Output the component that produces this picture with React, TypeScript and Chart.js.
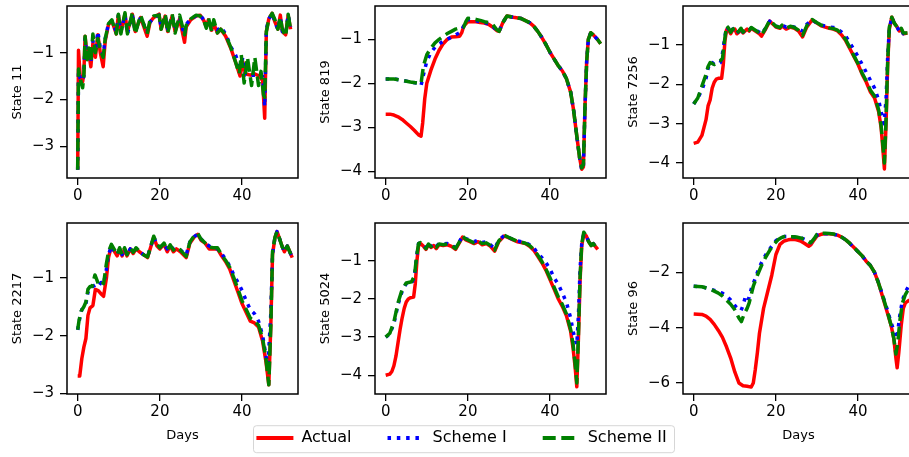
import React, { useEffect, useRef } from 'react';
import { Chart, registerables } from 'chart.js';

Chart.register(...registerables);
Chart.defaults.font.family = 'DejaVu Sans';

type Pt = [number, number];

const seriesLabels = ['Actual', 'Scheme I', 'Scheme II'];
const seriesColors = ['#ff0000', '#0000ff', '#008000'];
const xTicks = [0, 20, 40];

// ---------- State 11 ----------
const state11Actual: Pt[] = [[0,-3.5],[0.2,-0.95],[0.6,-1.5],[1.2,-1.62],[1.5,-1.45],[1.8,-0.65],[2.3,-1.1],[2.7,-1.0],[3.2,-1.3],[3.7,-0.8],[4.3,-1.1],[4.9,-0.62],[5.5,-1.0],[6.2,-1.3],[6.7,-0.75],[7.5,-0.4],[8.3,-0.32],[9.4,-0.6],[9.9,-0.2],[10.5,-0.55],[11.5,-0.18],[12.1,-0.55],[13.3,-0.18],[14,-0.55],[15.3,-0.25],[16.9,-0.65],[17.6,-0.35],[18.5,-0.25],[19.8,-0.18],[20.3,-0.5],[21.3,-0.22],[21.9,-0.55],[23,-0.22],[23.7,-0.55],[24.8,-0.28],[26,-0.78],[26.4,-0.45],[27.5,-0.3],[28.8,-0.22],[29.8,-0.2],[30.7,-0.32],[31.3,-0.45],[31.8,-0.3],[32.6,-0.52],[33.1,-0.38],[34,-0.58],[34.8,-0.5],[36,-0.65],[37.3,-0.92],[38.4,-1.2],[39.5,-1.5],[40.2,-1.2],[40.8,-1.45],[42,-1.48],[43,-1.45],[44.2,-1.5],[45,-1.6],[45.5,-2.4],[45.9,-0.55],[46.5,-0.28],[47.3,-0.16],[48,-0.35],[48.7,-0.5],[49.3,-0.2],[49.8,-0.55],[50.6,-0.62],[51.2,-0.2],[51.8,-0.5]];
const state11SchemeI: Pt[] = [[0,-3.5],[0.2,-1.4],[0.6,-1.55],[1.2,-1.6],[1.5,-1.5],[1.8,-0.7],[2.3,-1.1],[2.7,-1.0],[3.2,-1.2],[3.7,-0.75],[4.3,-1.0],[4.9,-0.55],[5.5,-0.9],[6.2,-1.05],[6.7,-0.7],[7.5,-0.38],[8.3,-0.32],[9.4,-0.55],[9.9,-0.2],[10.5,-0.55],[11.5,-0.2],[12.1,-0.6],[13.3,-0.2],[14,-0.55],[15.3,-0.25],[16.9,-0.55],[17.6,-0.35],[18.5,-0.25],[19.8,-0.2],[20.3,-0.45],[21.3,-0.22],[21.9,-0.5],[23,-0.22],[23.7,-0.45],[24.8,-0.28],[26,-0.62],[26.4,-0.4],[27.5,-0.28],[28.8,-0.22],[29.8,-0.2],[30.7,-0.3],[31.3,-0.42],[31.8,-0.3],[32.6,-0.48],[33.1,-0.38],[34,-0.52],[34.8,-0.45],[36,-0.6],[37.3,-0.88],[38.4,-1.05],[39.5,-1.3],[40.2,-1.1],[40.8,-1.48],[42,-1.48],[43,-1.48],[44.2,-1.48],[45,-1.5],[45.5,-2.15],[45.9,-0.5],[46.5,-0.28],[47.3,-0.16],[48,-0.35],[48.7,-0.5],[49.3,-0.25],[49.8,-0.55],[50.6,-0.6],[51.2,-0.2],[51.8,-0.45]];
const state11SchemeII: Pt[] = [[0,-3.5],[0.2,-1.35],[0.6,-1.55],[1.2,-1.75],[1.5,-1.5],[1.8,-0.65],[2.3,-1.15],[2.7,-0.9],[3.2,-1.2],[3.7,-0.6],[4.3,-1.0],[4.9,-0.7],[5.5,-0.95],[6.2,-1.1],[6.7,-0.7],[7.5,-0.38],[8.3,-0.3],[9.4,-0.6],[9.9,-0.18],[10.5,-0.6],[11.5,-0.15],[12.1,-0.6],[13.3,-0.15],[14,-0.6],[15.3,-0.2],[16.9,-0.6],[17.6,-0.3],[18.5,-0.22],[19.8,-0.2],[20.3,-0.5],[21.3,-0.18],[21.9,-0.58],[23,-0.18],[23.7,-0.58],[24.8,-0.2],[26,-0.62],[26.4,-0.42],[27.5,-0.28],[28.8,-0.2],[29.8,-0.22],[30.7,-0.32],[31.3,-0.48],[31.8,-0.25],[32.6,-0.55],[33.1,-0.3],[34,-0.58],[34.8,-0.5],[36,-0.62],[37.3,-0.9],[38.4,-1.2],[39.3,-1.45],[39.8,-1.05],[40.5,-1.65],[41.3,-1.1],[42.3,-1.7],[43.1,-1.1],[44,-1.7],[44.6,-1.4],[45.2,-1.9],[45.5,-1.95],[45.9,-0.55],[46.5,-0.28],[47.3,-0.16],[48,-0.3],[48.7,-0.5],[49.3,-0.25],[49.8,-0.5],[50.6,-0.65],[51.2,-0.18],[51.8,-0.5]];
const state11YTicks = [-3, -2, -1];

// ---------- State 819 ----------
const state819Actual: Pt[] = [[0,-2.7],[1,-2.7],[2,-2.72],[3,-2.76],[4,-2.82],[5,-2.9],[6,-2.98],[7,-3.07],[8,-3.17],[8.6,-3.2],[9,-2.9],[9.5,-2.35],[10,-2.0],[11,-1.7],[12,-1.45],[13,-1.25],[14,-1.1],[15,-1.0],[16,-0.95],[17,-0.94],[18,-0.93],[18.5,-0.85],[19,-0.7],[20,-0.6],[21,-0.6],[22,-0.6],[23,-0.62],[24,-0.63],[25,-0.66],[26,-0.72],[27,-0.8],[27.6,-0.82],[28.5,-0.62],[29.5,-0.47],[31,-0.5],[33,-0.53],[35,-0.62],[36,-0.7],[37,-0.82],[38,-0.96],[39,-1.12],[40,-1.3],[41,-1.45],[42,-1.6],[43,-1.72],[44,-1.9],[45,-2.2],[45.7,-2.6],[46.5,-3.2],[47.2,-3.7],[47.7,-3.95],[48.1,-3.9],[48.5,-2.5],[48.9,-1.5],[49.3,-1.0],[49.9,-0.85],[50.5,-0.9],[51.5,-1.0],[52.3,-1.1]];
const state819SchemeI: Pt[] = [[0,-1.9],[2,-1.9],[4,-1.93],[6,-1.97],[8,-2.0],[8.6,-2.05],[9.2,-1.8],[10,-1.5],[11,-1.3],[12,-1.18],[13,-1.1],[14,-1.05],[15,-1.0],[16,-0.95],[17,-0.9],[18,-0.85],[18.7,-0.75],[19.5,-0.6],[20,-0.55],[21,-0.57],[22,-0.58],[23,-0.6],[24,-0.62],[25,-0.65],[26,-0.7],[27,-0.8],[27.6,-0.82],[28.5,-0.62],[29.5,-0.47],[31,-0.5],[33,-0.53],[35,-0.62],[36,-0.7],[37,-0.82],[38,-0.96],[39,-1.12],[40,-1.3],[41,-1.45],[42,-1.6],[43,-1.72],[44,-1.9],[45,-2.2],[45.7,-2.6],[46.5,-3.2],[47.2,-3.7],[47.7,-3.97],[48.1,-3.9],[48.5,-2.5],[48.9,-1.5],[49.3,-1.0],[49.9,-0.85],[50.5,-0.9],[51.5,-1.0],[52.3,-1.1]];
const state819SchemeII: Pt[] = [[0,-1.9],[2,-1.9],[4,-1.93],[6,-1.97],[8,-2.0],[8.6,-2.0],[9.2,-1.6],[10,-1.35],[11,-1.2],[12,-1.08],[13,-1.0],[14,-0.93],[15,-0.87],[16,-0.82],[17,-0.77],[18,-0.74],[19,-0.72],[19.5,-0.6],[20,-0.52],[21,-0.53],[22,-0.55],[23,-0.57],[24,-0.6],[25,-0.62],[26,-0.66],[27,-0.78],[27.6,-0.82],[28.5,-0.62],[29.5,-0.47],[31,-0.5],[33,-0.53],[35,-0.62],[36,-0.7],[37,-0.82],[38,-0.96],[39,-1.12],[40,-1.3],[41,-1.45],[42,-1.6],[43,-1.72],[44,-1.9],[45,-2.2],[45.7,-2.6],[46.5,-3.2],[47.2,-3.7],[47.7,-3.92],[48.1,-3.85],[48.5,-2.5],[48.9,-1.5],[49.3,-1.0],[49.9,-0.85],[50.5,-0.9],[51.5,-1.0],[52.3,-1.1]];
const state819YTicks = [-4, -3, -2, -1];

// ---------- State 7256 ----------
const state7256Actual: Pt[] = [[0,-3.5],[1,-3.47],[2,-3.3],[3,-2.9],[3.5,-2.55],[4,-2.4],[4.5,-2.1],[5,-1.95],[5.5,-1.87],[6,-1.85],[6.8,-1.85],[7.2,-1.5],[7.6,-0.9],[8,-0.62],[8.5,-0.62],[9,-0.72],[9.5,-0.62],[10,-0.6],[10.5,-0.72],[11,-0.68],[11.5,-0.6],[12,-0.7],[12.5,-0.65],[13,-0.6],[13.5,-0.65],[14,-0.58],[15,-0.65],[16,-0.72],[16.5,-0.78],[17.5,-0.6],[18.5,-0.4],[19.5,-0.5],[20,-0.55],[21,-0.58],[21.5,-0.52],[22.5,-0.6],[23.5,-0.55],[24.5,-0.58],[25.5,-0.65],[26.5,-0.8],[27.5,-0.55],[28.8,-0.37],[30,-0.45],[31,-0.52],[32,-0.55],[33,-0.58],[34,-0.6],[35,-0.65],[36,-0.75],[37,-0.9],[38,-1.1],[39,-1.3],[40,-1.5],[41,-1.75],[42,-1.95],[43,-2.2],[44,-2.35],[45,-2.7],[45.6,-3.1],[46,-3.6],[46.4,-4.15],[46.8,-3.0],[47.2,-1.5],[47.6,-0.6],[48.2,-0.3],[48.8,-0.45],[49.5,-0.55],[50,-0.65],[50.5,-0.6],[51,-0.72],[52,-0.7]];
const state7256SchemeI: Pt[] = [[0,-2.5],[1,-2.35],[2,-2.15],[3,-1.85],[3.5,-1.6],[4,-1.45],[4.5,-1.45],[5,-1.5],[5.5,-1.5],[6,-1.48],[6.5,-1.45],[7,-1.22],[7.5,-0.85],[8,-0.55],[8.5,-0.6],[9,-0.7],[9.5,-0.6],[10,-0.58],[10.5,-0.7],[11,-0.66],[11.5,-0.58],[12,-0.68],[12.5,-0.62],[13,-0.6],[13.5,-0.63],[14,-0.57],[15,-0.62],[16,-0.68],[16.5,-0.72],[17.5,-0.58],[18.5,-0.4],[19.5,-0.5],[20,-0.53],[21,-0.55],[21.5,-0.5],[22.5,-0.55],[23.5,-0.52],[24.5,-0.55],[25.5,-0.6],[26.5,-0.65],[27.5,-0.48],[28.8,-0.37],[30,-0.45],[31,-0.5],[32,-0.52],[33,-0.55],[34,-0.56],[35,-0.6],[36,-0.68],[37,-0.78],[38,-0.95],[39,-1.12],[40,-1.3],[41,-1.5],[42,-1.7],[43,-1.9],[44,-2.1],[45,-2.4],[45.6,-2.7],[46,-2.9],[46.3,-3.0],[46.8,-2.4],[47.2,-1.3],[47.6,-0.6],[48.2,-0.3],[48.8,-0.45],[49.5,-0.55],[50,-0.65],[50.5,-0.6],[51,-0.72],[52,-0.7]];
const state7256SchemeII: Pt[] = [[0,-2.5],[1,-2.35],[1.5,-2.2],[2,-2.05],[3,-1.75],[3.5,-1.55],[4,-1.45],[5,-1.5],[5.5,-1.45],[6.5,-1.4],[7,-1.35],[7.5,-0.9],[8,-0.52],[8.5,-0.58],[9,-0.68],[9.5,-0.6],[10,-0.58],[10.5,-0.7],[11,-0.65],[11.5,-0.58],[12,-0.68],[12.5,-0.62],[13,-0.58],[13.5,-0.63],[14,-0.56],[15,-0.63],[16,-0.7],[16.5,-0.75],[17.5,-0.58],[18.5,-0.38],[19.5,-0.48],[20,-0.53],[21,-0.56],[21.5,-0.5],[22.5,-0.58],[23.5,-0.53],[24.5,-0.56],[25.5,-0.63],[26.5,-0.76],[27.5,-0.52],[28.8,-0.36],[30,-0.44],[31,-0.5],[32,-0.54],[33,-0.57],[34,-0.59],[35,-0.63],[36,-0.72],[37,-0.87],[38,-1.07],[39,-1.28],[40,-1.48],[41,-1.72],[42,-1.92],[43,-2.15],[44,-2.3],[45,-2.65],[45.6,-3.05],[46,-3.5],[46.4,-4.0],[46.8,-2.9],[47.2,-1.4],[47.6,-0.55],[48.2,-0.3],[48.8,-0.45],[49.5,-0.55],[50,-0.62],[50.5,-0.58],[51,-0.7],[52,-0.7]];
const state7256YTicks = [-4, -3, -2, -1];

// ---------- State 2217 ----------
const state2217Actual: Pt[] = [[0,-2.7],[0.5,-2.7],[1,-2.4],[1.5,-2.2],[2,-2.05],[2.5,-1.65],[3,-1.52],[3.7,-1.48],[4.3,-1.2],[5,-1.22],[5.7,-1.28],[6.3,-1.32],[7,-1.0],[7.5,-0.65],[8.2,-0.45],[9,-0.55],[9.6,-0.62],[10.2,-0.5],[10.8,-0.62],[11.4,-0.5],[12,-0.62],[12.8,-0.5],[13.5,-0.58],[14.2,-0.5],[15,-0.55],[16,-0.6],[17,-0.65],[18.5,-0.3],[19.3,-0.45],[20,-0.5],[21,-0.42],[21.8,-0.55],[22.5,-0.45],[23.3,-0.55],[24,-0.5],[25,-0.55],[26.4,-0.65],[27.3,-0.4],[28.5,-0.28],[29.2,-0.25],[30,-0.35],[31,-0.4],[32,-0.5],[33,-0.5],[34,-0.5],[35,-0.62],[36,-0.72],[37,-0.85],[38,-1.05],[39,-1.25],[40,-1.45],[41,-1.6],[42,-1.75],[43,-1.78],[44,-1.85],[45,-2.1],[45.8,-2.45],[46.5,-2.85],[47,-1.8],[47.4,-0.6],[48,-0.3],[48.5,-0.2],[49,-0.3],[49.7,-0.45],[50.3,-0.55],[51,-0.45],[51.6,-0.55],[52.2,-0.65]];
const state2217SchemeI: Pt[] = [[0,-1.9],[0.5,-1.7],[1,-1.55],[1.5,-1.5],[2,-1.45],[2.5,-1.25],[3,-1.18],[3.7,-1.15],[4.3,-1.12],[5,-1.15],[5.7,-1.08],[6.3,-1.1],[7,-0.85],[7.5,-0.6],[8.2,-0.45],[9,-0.55],[9.6,-0.6],[10.2,-0.5],[10.8,-0.6],[11.4,-0.5],[12,-0.6],[12.8,-0.5],[13.5,-0.56],[14.2,-0.5],[15,-0.55],[16,-0.6],[17,-0.63],[18.5,-0.3],[19.3,-0.42],[20,-0.47],[21,-0.42],[21.8,-0.5],[22.5,-0.45],[23.3,-0.5],[24,-0.48],[25,-0.52],[26.4,-0.6],[27.3,-0.38],[28.5,-0.28],[29.2,-0.25],[30,-0.33],[31,-0.4],[32,-0.45],[33,-0.48],[34,-0.5],[35,-0.58],[36,-0.68],[37,-0.8],[38,-0.95],[39,-1.08],[40,-1.22],[41,-1.4],[42,-1.55],[43,-1.62],[44,-1.75],[45,-2.0],[45.8,-2.35],[46.3,-2.5],[47,-1.6],[47.4,-0.6],[48,-0.3],[48.5,-0.2],[49,-0.3],[49.7,-0.45],[50.3,-0.55],[51,-0.45],[51.6,-0.55],[52.2,-0.65]];
const state2217SchemeII: Pt[] = [[0,-1.9],[0.3,-1.75],[0.8,-1.58],[1.5,-1.5],[2,-1.42],[2.5,-1.2],[3,-1.15],[3.5,-1.15],[4.2,-0.95],[5,-1.1],[5.7,-1.05],[6.3,-1.1],[7,-0.75],[7.5,-0.55],[8.2,-0.42],[9,-0.52],[9.6,-0.6],[10.2,-0.48],[10.8,-0.6],[11.4,-0.48],[12,-0.6],[12.8,-0.48],[13.5,-0.56],[14.2,-0.48],[15,-0.54],[16,-0.6],[17,-0.64],[18.5,-0.28],[19.3,-0.42],[20,-0.48],[21,-0.4],[21.8,-0.52],[22.5,-0.43],[23.3,-0.52],[24,-0.47],[25,-0.52],[26.4,-0.63],[27.3,-0.38],[28.5,-0.26],[29.2,-0.23],[30,-0.33],[31,-0.4],[32,-0.47],[33,-0.48],[34,-0.48],[35,-0.6],[36,-0.7],[37,-0.82],[38,-1.0],[39,-1.2],[40,-1.4],[41,-1.55],[42,-1.7],[43,-1.75],[44,-1.82],[45,-2.05],[45.8,-2.4],[46.5,-2.85],[47,-1.8],[47.4,-0.55],[48,-0.3],[48.5,-0.2],[49,-0.3],[49.7,-0.45],[50.3,-0.55],[51,-0.45],[51.6,-0.55],[52.2,-0.65]];
const state2217YTicks = [-3, -2, -1];

// ---------- State 5024 ----------
const state5024Actual: Pt[] = [[0,-4.0],[1,-3.97],[1.5,-3.9],[2,-3.75],[2.5,-3.5],[3,-3.15],[3.5,-2.8],[4,-2.5],[4.5,-2.25],[5,-2.08],[5.5,-2.0],[6,-1.97],[6.8,-1.95],[7.2,-1.6],[7.6,-1.0],[8,-0.6],[8.5,-0.55],[9.2,-0.62],[9.8,-0.7],[10.4,-0.58],[11,-0.65],[11.7,-0.6],[12.3,-0.68],[13,-0.58],[14,-0.6],[15,-0.58],[16,-0.62],[17,-0.7],[17.8,-0.55],[18.7,-0.38],[19.5,-0.45],[20.5,-0.5],[21.5,-0.55],[22.5,-0.5],[23.5,-0.58],[24.5,-0.55],[25.5,-0.62],[26.5,-0.75],[27.5,-0.5],[28.8,-0.35],[30,-0.4],[31,-0.45],[32,-0.5],[33,-0.52],[34,-0.55],[35,-0.62],[36,-0.72],[37,-0.88],[38,-1.05],[39,-1.25],[40,-1.5],[41,-1.75],[42,-2.0],[43,-2.2],[44,-2.45],[45,-2.85],[45.6,-3.3],[46.1,-3.8],[46.5,-4.3],[46.9,-3.0],[47.3,-1.5],[47.7,-0.6],[48.2,-0.3],[48.8,-0.35],[49.4,-0.5],[50,-0.6],[50.5,-0.55],[51,-0.62],[51.6,-0.7]];
const state5024SchemeI: Pt[] = [[0,-3.0],[1,-2.92],[2,-2.65],[3,-2.15],[4,-1.8],[5,-1.6],[5.5,-1.55],[6.5,-1.55],[7,-1.4],[7.5,-0.9],[8,-0.55],[8.5,-0.52],[9.2,-0.6],[9.8,-0.66],[10.4,-0.55],[11,-0.62],[11.7,-0.55],[12.3,-0.62],[13,-0.55],[14,-0.56],[15,-0.55],[16,-0.6],[17,-0.65],[17.8,-0.52],[18.7,-0.36],[19.5,-0.42],[20.5,-0.45],[21.5,-0.5],[22.5,-0.46],[23.5,-0.52],[24.5,-0.5],[25.5,-0.58],[26.5,-0.68],[27.5,-0.46],[28.8,-0.34],[30,-0.4],[31,-0.44],[32,-0.48],[33,-0.5],[34,-0.52],[35,-0.58],[36,-0.66],[37,-0.8],[38,-0.92],[39,-1.05],[40,-1.22],[41,-1.45],[42,-1.62],[43,-1.85],[44,-2.1],[45,-2.5],[45.6,-2.85],[46.2,-3.1],[46.5,-3.2],[46.9,-2.4],[47.3,-1.2],[47.7,-0.55],[48.2,-0.3],[48.8,-0.35],[49.4,-0.5],[50,-0.6],[50.5,-0.55],[51,-0.62],[51.6,-0.7]];
const state5024SchemeII: Pt[] = [[0,-3.0],[1,-2.9],[2,-2.6],[3,-2.1],[4,-1.75],[5,-1.58],[6.3,-1.55],[7,-1.4],[7.5,-0.9],[8,-0.55],[8.5,-0.52],[9.2,-0.6],[9.8,-0.68],[10.4,-0.56],[11,-0.63],[11.7,-0.57],[12.3,-0.65],[13,-0.56],[14,-0.58],[15,-0.56],[16,-0.6],[17,-0.68],[17.8,-0.53],[18.7,-0.36],[19.5,-0.43],[20.5,-0.48],[21.5,-0.53],[22.5,-0.48],[23.5,-0.55],[24.5,-0.53],[25.5,-0.6],[26.5,-0.72],[27.5,-0.48],[28.8,-0.33],[30,-0.39],[31,-0.44],[32,-0.49],[33,-0.51],[34,-0.54],[35,-0.6],[36,-0.7],[37,-0.85],[38,-1.02],[39,-1.22],[40,-1.45],[41,-1.7],[42,-1.95],[43,-2.15],[44,-2.4],[45,-2.8],[45.6,-3.2],[46.1,-3.7],[46.5,-4.2],[46.9,-2.9],[47.3,-1.4],[47.7,-0.55],[48.2,-0.25],[48.8,-0.35],[49.4,-0.5],[50,-0.6],[50.5,-0.55],[51,-0.62],[51.6,-0.7]];
const state5024YTicks = [-4, -3, -2, -1];

// ---------- State 96 ----------
const state96Actual: Pt[] = [[0,-3.5],[2,-3.52],[3,-3.58],[4,-3.7],[5,-3.88],[6,-4.1],[7,-4.35],[8,-4.7],[9,-5.1],[10,-5.6],[11,-6.0],[12,-6.1],[13,-6.12],[14,-6.15],[14.5,-6.0],[15,-5.5],[15.5,-4.9],[16,-4.2],[17,-3.3],[18,-2.7],[19,-2.1],[20,-1.35],[21,-0.98],[22,-0.86],[23,-0.82],[24,-0.8],[25,-0.82],[26,-0.86],[27,-0.95],[28,-1.05],[28.5,-1.0],[29.3,-0.82],[30,-0.68],[31,-0.62],[32,-0.6],[33,-0.6],[34,-0.62],[35,-0.65],[36,-0.72],[37,-0.82],[38,-0.95],[39,-1.1],[40,-1.25],[41,-1.4],[42,-1.6],[43,-1.75],[44,-2.0],[45,-2.4],[46,-2.9],[47,-3.4],[48,-3.9],[48.7,-4.4],[49.2,-5.1],[49.5,-5.45],[49.9,-4.9],[50.5,-3.9],[51,-3.3],[51.5,-3.1],[52.5,-3.0]];
const state96SchemeI: Pt[] = [[0,-2.5],[2,-2.52],[4,-2.6],[6,-2.7],[7,-2.75],[8,-2.85],[9,-3.0],[10,-3.2],[11,-3.35],[11.5,-3.38],[12,-3.2],[12.5,-2.92],[13,-3.05],[13.5,-2.9],[14,-2.6],[15,-2.2],[16,-1.8],[17,-1.5],[18,-1.25],[19,-1.05],[20,-0.85],[21,-0.75],[22,-0.7],[23,-0.7],[24,-0.71],[25,-0.72],[26,-0.74],[27,-0.8],[28,-0.9],[28.5,-0.92],[29.3,-0.78],[30,-0.65],[31,-0.6],[32,-0.6],[33,-0.6],[34,-0.62],[35,-0.65],[36,-0.72],[37,-0.82],[38,-0.95],[39,-1.1],[40,-1.25],[41,-1.4],[42,-1.6],[43,-1.75],[44,-2.0],[45,-2.38],[46,-2.85],[47,-3.3],[48,-3.8],[48.7,-4.1],[49.2,-4.4],[49.6,-4.2],[50.2,-3.5],[50.8,-3.0],[51.5,-2.7],[52.3,-2.5]];
const state96SchemeII: Pt[] = [[0,-2.5],[2,-2.52],[4,-2.6],[6,-2.75],[7,-2.85],[8,-3.0],[9,-3.15],[10,-3.35],[11,-3.65],[11.6,-3.78],[12.3,-3.5],[13,-3.3],[13.5,-3.1],[14.5,-2.5],[15.5,-2.1],[16.5,-1.75],[17.5,-1.45],[18.5,-1.2],[19.5,-0.98],[20.5,-0.82],[21.5,-0.73],[22,-0.7],[23,-0.7],[24,-0.71],[25,-0.72],[26,-0.75],[27,-0.8],[28,-0.9],[28.5,-0.92],[29.3,-0.78],[30,-0.62],[31,-0.58],[32,-0.58],[33,-0.59],[34,-0.61],[35,-0.65],[36,-0.72],[37,-0.82],[38,-0.95],[39,-1.1],[40,-1.25],[41,-1.4],[42,-1.6],[43,-1.75],[44,-2.0],[45,-2.4],[46,-2.85],[47,-3.35],[48,-3.9],[48.7,-4.4],[49.2,-4.95],[49.6,-4.6],[50.2,-3.7],[50.8,-3.1],[51.5,-2.8],[52.3,-2.6]];
const state96YTicks = [-6, -4, -2];

type PanelCfg = {
  title: string; series: Pt[][]; yMin: number; yMax: number; yTicks: number[]; col: number; row: number;
};

const panels: PanelCfg[] = [
  { title: 'State 11', series: [state11Actual, state11SchemeI, state11SchemeII], yMin: -3.675, yMax: -0.005, yTicks: state11YTicks, col: 0, row: 0 },
  { title: 'State 819', series: [state819Actual, state819SchemeI, state819SchemeII], yMin: -4.15, yMax: -0.244, yTicks: state819YTicks, col: 1, row: 0 },
  { title: 'State 7256', series: [state7256Actual, state7256SchemeI, state7256SchemeII], yMin: -4.38, yMax: -0.015, yTicks: state7256YTicks, col: 2, row: 0 },
  { title: 'State 2217', series: [state2217Actual, state2217SchemeI, state2217SchemeII], yMin: -3.01, yMax: -0.052, yTicks: state2217YTicks, col: 0, row: 1 },
  { title: 'State 5024', series: [state5024Actual, state5024SchemeI, state5024SchemeII], yMin: -4.49, yMax: -0.01, yTicks: state5024YTicks, col: 1, row: 1 },
  { title: 'State 96', series: [state96Actual, state96SchemeI, state96SchemeII], yMin: -6.4, yMax: -0.21, yTicks: state96YTicks, col: 2, row: 1 },
];

const X_MIN = -2.6;
const X_MAX = 53.6;
const LINE_W = 3.5;
const dashes = [[], [3.5, 5.8], [13, 5.6]];

const PLOT_LEFT = [67, 375, 683];
const PLOT_TOP = [6, 223];
const PLOT_W = 231;
const PLOT_H = [172, 171];
const X_AXIS_H = [30, 49];
const Y_AXIS_W = 57;
const PAD_TOP = 6;
const PAD_RIGHT = 6;

const fmt = (v: number) => (v < 0 ? '\u2212' + Math.abs(v) : String(v));

const framePlugin = {
  id: 'frame',
  afterDraw(chart: any) {
    const { ctx, chartArea } = chart;
    ctx.save();
    ctx.strokeStyle = '#000';
    ctx.lineWidth = 1.5;
    ctx.strokeRect(chartArea.left, chartArea.top, chartArea.right - chartArea.left, chartArea.bottom - chartArea.top);
    ctx.restore();
  },
};

function Panel({ cfg }: { cfg: PanelCfg }) {
  const ref = useRef<HTMLCanvasElement>(null);
  const W = Y_AXIS_W + PLOT_W + PAD_RIGHT;
  const H = PAD_TOP + PLOT_H[cfg.row] + X_AXIS_H[cfg.row];
  const left = PLOT_LEFT[cfg.col] - Y_AXIS_W;
  const top = PLOT_TOP[cfg.row] - PAD_TOP;
  useEffect(() => {
    const tickFont = { family: 'DejaVu Sans', size: 15 };
    const chart = new Chart(ref.current as HTMLCanvasElement, {
      type: 'line',
      data: {
        datasets: cfg.series.map((s, i) => ({
          label: seriesLabels[i],
          data: s.map(([x, y]) => ({ x, y })),
          borderColor: seriesColors[i],
          backgroundColor: seriesColors[i],
          borderWidth: LINE_W,
          borderDash: dashes[i],
          borderCapStyle: 'butt',
          borderJoinStyle: 'round',
          pointRadius: 0,
          tension: 0,
          fill: false,
          order: 3 - i,
        })),
      } as any,
      options: {
        responsive: false,
        animation: false,
        events: [],
        layout: { padding: { top: PAD_TOP, right: PAD_RIGHT, left: 0, bottom: 0 } },
        plugins: { legend: { display: false }, tooltip: { enabled: false } },
        scales: {
          x: {
            type: 'linear',
            min: X_MIN,
            max: X_MAX,
            afterBuildTicks: (a: any) => { a.ticks = xTicks.map((v) => ({ value: v })); },
            afterFit: (s: any) => {
              s.height = X_AXIS_H[cfg.row];
              s.paddingLeft = 0; s.paddingRight = 0; s.paddingTop = 0; s.paddingBottom = 0;
            },
            grid: { display: true, drawOnChartArea: false, drawTicks: true, tickLength: 7, color: '#000', lineWidth: 1.3 },
            border: { display: false },
            ticks: { font: tickFont, color: '#000', padding: 2.5, maxRotation: 0, autoSkip: false, callback: (v: any) => fmt(Number(v)) },
            title: { display: cfg.row === 1, text: 'Days', color: '#000', font: { family: 'DejaVu Sans', size: 13 }, padding: { top: 0, bottom: 0 } },
          },
          y: {
            type: 'linear',
            min: cfg.yMin,
            max: cfg.yMax,
            afterBuildTicks: (a: any) => { a.ticks = cfg.yTicks.map((v) => ({ value: v })); },
            afterFit: (s: any) => {
              s.width = Y_AXIS_W;
              s.paddingLeft = 0; s.paddingRight = 0; s.paddingTop = 0; s.paddingBottom = 0;
            },
            grid: { display: true, drawOnChartArea: false, drawTicks: true, tickLength: 7, color: '#000', lineWidth: 1.3 },
            border: { display: false },
            ticks: { font: tickFont, color: '#000', padding: 6, autoSkip: false, callback: (v: any) => fmt(Number(v)) },
            title: { display: true, text: cfg.title, color: '#000', font: { family: 'DejaVu Sans', size: 13 }, padding: { top: 0, bottom: 0 } },
          },
        },
      } as any,
      plugins: [framePlugin],
    });
    return () => chart.destroy();
  }, []);
  return (
    <canvas
      ref={ref}
      width={W}
      height={H}
      style={{ position: 'absolute', left, top, width: W, height: H }}
    />
  );
}

const LEG_LEFT = 201;
const LEG_TOP = 394;
const LEG_W = 521;
const LEG_H = 63;

const legendFramePlugin = {
  id: 'legendFrame',
  beforeDraw(chart: any) {
    const { ctx } = chart;
    const x = 253 - LEG_LEFT + 0.5;
    const y = 31.7;
    const w = 421;
    const h = 27;
    const r = 3;
    ctx.save();
    ctx.beginPath();
    ctx.moveTo(x + r, y);
    ctx.lineTo(x + w - r, y);
    ctx.quadraticCurveTo(x + w, y, x + w, y + r);
    ctx.lineTo(x + w, y + h - r);
    ctx.quadraticCurveTo(x + w, y + h, x + w - r, y + h);
    ctx.lineTo(x + r, y + h);
    ctx.quadraticCurveTo(x, y + h, x, y + h - r);
    ctx.lineTo(x, y + r);
    ctx.quadraticCurveTo(x, y, x + r, y);
    ctx.closePath();
    ctx.fillStyle = '#ffffff';
    ctx.fill();
    ctx.strokeStyle = 'rgba(204,204,204,0.8)';
    ctx.lineWidth = 1;
    ctx.stroke();
    ctx.restore();
  },
};

function Legend() {
  const ref = useRef<HTMLCanvasElement>(null);
  useEffect(() => {
    const chart = new Chart(ref.current as HTMLCanvasElement, {
      type: 'line',
      data: {
        datasets: seriesLabels.map((label, i) => ({
          label,
          data: [],
          borderColor: seriesColors[i],
          backgroundColor: seriesColors[i],
          borderWidth: 4,
          borderDash: dashes[i],
          borderCapStyle: 'butt',
        })),
      } as any,
      options: {
        responsive: false,
        animation: false,
        events: [],
        layout: { padding: 0 },
        scales: { x: { display: false }, y: { display: false } },
        plugins: {
          tooltip: { enabled: false },
          legend: {
            display: true,
            position: 'top',
            maxHeight: 200,
            labels: {
              usePointStyle: true,
              pointStyle: 'line',
              pointStyleWidth: 37,
              padding: 36,
              color: '#000',
              font: { family: 'DejaVu Sans', size: 16 },
              generateLabels: (c: any) =>
                (Chart.defaults.plugins.legend.labels as any).generateLabels(c).map((item: any) => {
                  const ds = c.data.datasets[item.datasetIndex];
                  return { ...item, lineDash: ds.borderDash, lineWidth: ds.borderWidth, strokeStyle: ds.borderColor, lineCap: 'butt' };
                }),
            },
          },
        },
      } as any,
      plugins: [legendFramePlugin],
    });
    return () => chart.destroy();
  }, []);
  return (
    <canvas
      ref={ref}
      width={LEG_W}
      height={LEG_H}
      style={{ position: 'absolute', left: LEG_LEFT, top: LEG_TOP, width: LEG_W, height: LEG_H }}
    />
  );
}

export default function App() {
  return (
    <div style={{ position: 'absolute', left: 0, top: 0, width: 909, height: 457, overflow: 'hidden', background: '#fff' }}>
      {panels.map((p) => (
        <Panel key={p.title} cfg={p} />
      ))}
      <Legend />
    </div>
  );
}
